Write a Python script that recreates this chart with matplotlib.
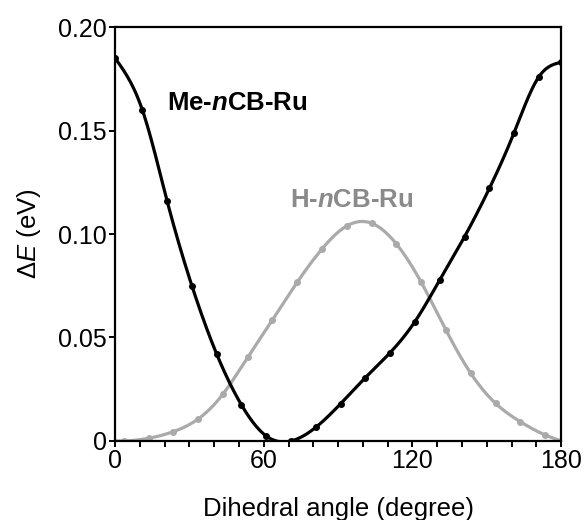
import numpy as np
import matplotlib
matplotlib.use("Agg")
import matplotlib.pyplot as plt
from matplotlib.ticker import MultipleLocator, FixedLocator

plt.rcParams['font.family'] = ['Liberation Sans', 'DejaVu Sans']
plt.rcParams['mathtext.fontset'] = 'custom'
plt.rcParams['mathtext.rm'] = 'Liberation Sans'
plt.rcParams['mathtext.it'] = 'Liberation Sans:italic'
plt.rcParams['mathtext.bf'] = 'Liberation Sans:bold:italic'

# Me-nCB-Ru (black)
me_angle = [0, 11, 21, 31, 41, 51, 61, 71, 81, 91, 101, 111, 121, 131, 141, 151, 161, 171, 180]
me_energy = [0.185, 0.160, 0.116, 0.075, 0.042, 0.0174, 0.0024, 0.0, 0.0066, 0.018,
             0.0306, 0.0427, 0.0577, 0.0778, 0.0987, 0.122, 0.149, 0.176, 0.183]

# H-nCB-Ru (grey)
h_angle = [0, 3.5, 13.5, 23.5, 33.5, 43.5, 53.5, 63.5, 73.5, 83.5, 93.5, 103.5,
           113.5, 123.5, 133.5, 143.5, 153.5, 163.5, 173.5, 180]
h_energy = [0.0, 0.0, 0.0013, 0.0045, 0.0106, 0.0226, 0.0404, 0.0585, 0.0767, 0.0928,
            0.1039, 0.1052, 0.0952, 0.0767, 0.0536, 0.0327, 0.0182, 0.0093, 0.0029, 0.0]

x_ticks = [0, 60, 120, 180]
y_ticks = [0, 0.05, 0.10, 0.15, 0.20]
y_ticklabels = ['0', '0.05', '0.10', '0.15', '0.20']


def smooth_line(x, y, n=400):
    """Natural cubic spline through the points, for drawing the smooth curve."""
    x = np.asarray(x, float)
    y = np.asarray(y, float)
    h = np.diff(x)
    k = len(x)
    A = np.zeros((k, k))
    b = np.zeros(k)
    A[0, 0] = A[-1, -1] = 1.0
    for i in range(1, k - 1):
        A[i, i - 1] = h[i - 1]
        A[i, i] = 2 * (h[i - 1] + h[i])
        A[i, i + 1] = h[i]
        b[i] = 6 * ((y[i + 1] - y[i]) / h[i] - (y[i] - y[i - 1]) / h[i - 1])
    M = np.linalg.solve(A, b)
    xs = np.linspace(x[0], x[-1], n)
    idx = np.clip(np.searchsorted(x, xs) - 1, 0, k - 2)
    x0, x1 = x[idx], x[idx + 1]
    hh = x1 - x0
    t0, t1 = x1 - xs, xs - x0
    ys = (M[idx] * t0 ** 3 + M[idx + 1] * t1 ** 3) / (6 * hh) \
        + (y[idx] / hh - M[idx] * hh / 6) * t0 + (y[idx + 1] / hh - M[idx + 1] * hh / 6) * t1
    return xs, ys


fig = plt.figure(figsize=(5.84, 5.20), dpi=100)
ax = fig.add_axes([0.197, 0.152, 0.764, 0.796])

grey = '#aaaaaa'
xs, ys = smooth_line(h_angle, h_energy)
ax.plot(xs, ys, color=grey, lw=2.3, solid_capstyle='round')
ax.plot(h_angle[1:-1], h_energy[1:-1], 'o', color=grey, ms=4)

xs, ys = smooth_line(me_angle, me_energy)
ax.plot(xs, ys, color='black', lw=2.3, solid_capstyle='round')
ax.plot(me_angle, me_energy, 'o', color='black', ms=4)

ax.set_xlim(0, 180)
ax.set_ylim(0, 0.20)
ax.xaxis.set_major_locator(FixedLocator(x_ticks))
ax.xaxis.set_minor_locator(MultipleLocator(10))
ax.set_yticks(y_ticks)
ax.set_yticklabels(y_ticklabels)

for s in ax.spines.values():
    s.set_linewidth(1.6)
ax.tick_params(which='both', direction='out', length=4, width=1.4, labelsize=18, pad=2)

ax.set_xlabel('Dihedral angle (degree)', fontsize=18.5, labelpad=17)
ax.set_ylabel(r'$\mathit{ΔE}$ (eV)', fontsize=18.5, labelpad=11)

ax.text(21, 0.1635, r'Me-$\mathbf{n}$CB-Ru', fontsize=18.5, fontweight='bold',
        color='black', va='center')
ax.text(70.5, 0.1165, r'H-$\mathbf{n}$CB-Ru', fontsize=18.5, fontweight='bold',
        color='#8a8a8a', va='center')

fig.savefig('out.png', dpi=100)
